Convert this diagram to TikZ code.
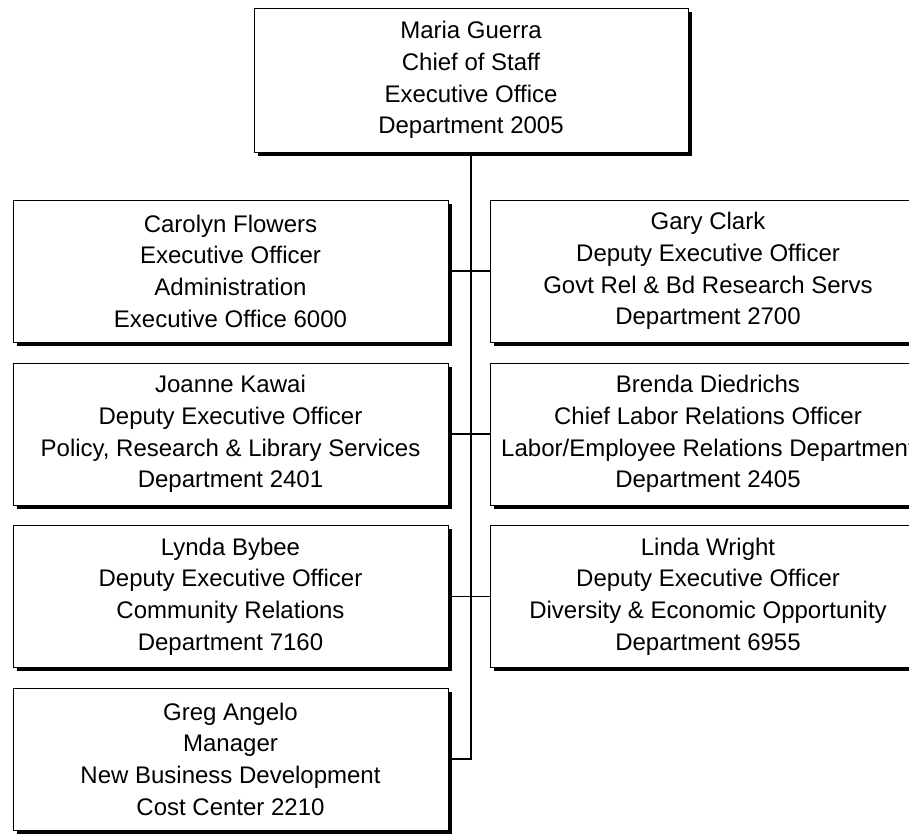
\documentclass[tikz,border=0pt]{standalone}
\usepackage{fontspec}
\setmainfont{Liberation Sans}
\usetikzlibrary{shadows}
\begin{document}
\begin{tikzpicture}[x=1pt,y=-1pt,
  unit/.style={draw,line width=0.8pt,fill=white,minimum width=435pt,minimum height=142pt,
    inner sep=0pt,align=center,font=\fontsize{24}{31.7}\selectfont,
    drop shadow={shadow xshift=3.5pt,shadow yshift=-3.5pt,fill=black,opacity=1}},
  link/.style={line width=1.1pt}]
\useasboundingbox (0,0) rectangle (909,833);
\clip (0,0) rectangle (909,833);
\fill[white] (0,0) rectangle (909,833);

\node[unit,minimum width=434pt,minimum height=144pt] (chief) at (471,80)
  {Maria Guerra\\Chief of Staff\\Executive Office\\Department 2005};

\node[unit] (flowers) at (230.5,271) {Carolyn Flowers\\Executive Officer\\Administration\\Executive Office 6000};
\node[unit] (kawai) at (230.5,434) {Joanne Kawai\\Deputy Executive Officer\\Policy, Research \& Library Services\\Department 2401};
\node[unit] (bybee) at (230.5,596.5) {Lynda Bybee\\Deputy Executive Officer\\Community Relations\\Department 7160};
\node[unit] (angelo) at (230.5,759) {Greg Angelo\\Manager\\New Business Development\\Cost Center 2210};

\node[unit] (clark) at (708,271) {Gary Clark\\Deputy Executive Officer\\Govt Rel \& Bd Research Servs\\Department 2700};
\node[unit] (diedrichs) at (708,434) {Brenda Diedrichs\\Chief Labor Relations Officer\\Labor/Employee Relations Department\\Department 2405};
\node[unit] (wright) at (708,596.5) {Linda Wright\\Deputy Executive Officer\\Diversity \& Economic Opportunity\\Department 6955};

\draw[link] (chief.south) |- (angelo.east);
\foreach \l/\r in {flowers/clark,kawai/diedrichs,bybee/wright} {
  \draw[link] (\l.east) -- (\r.west);
}
\end{tikzpicture}
\end{document}
